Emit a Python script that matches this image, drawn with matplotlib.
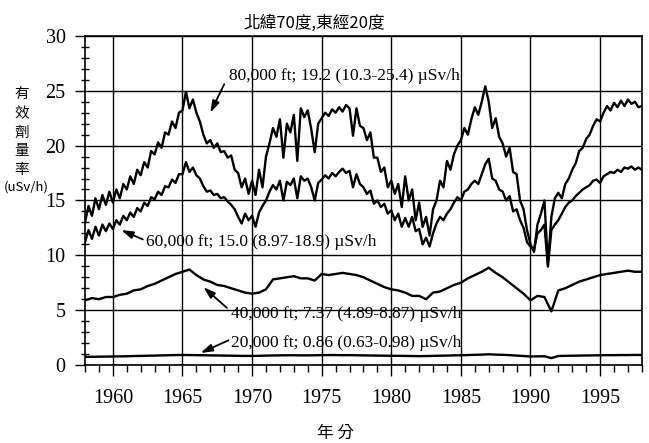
import numpy as np
import matplotlib.pyplot as plt
from matplotlib.ticker import MultipleLocator

# quarterly readings 1958.0 - 1998.0
years_q = np.arange(1958, 1998.01, 0.25)
# half-year readings
years_h = np.arange(1958, 1998.01, 0.5)

dose_80k = [
    13.0, 14.5, 13.6, 15.2,  14.2, 15.5, 14.6, 15.8,  14.8, 16.0, 15.2, 16.5,
    16.0, 17.2, 16.5, 17.8,  17.3, 18.5, 18.0, 19.5,  19.2, 20.3, 19.8, 21.2,
    21.0, 22.2, 21.6, 23.0,  23.2, 24.9, 23.4, 24.2,  23.0, 22.2, 21.0, 20.2,
    20.5, 19.8, 20.2, 19.4,  19.5, 18.9, 19.1, 17.8,  17.5, 16.2, 17.0, 15.6,
    16.8, 15.5, 17.8, 16.2,  19.0, 20.2, 21.6, 20.8,  22.4, 18.9, 22.0, 21.2,
    22.8, 18.6, 23.4, 22.6,  23.2, 21.5, 19.4, 22.0,  22.5, 23.0, 22.7, 23.3,
    23.0, 23.5, 23.1, 23.7,  23.4, 20.9, 23.4, 21.8,  21.6, 20.5, 21.2, 18.9,
    18.9, 17.6, 18.0, 16.2,  16.8, 15.6, 16.5, 14.4,  17.2, 15.0, 16.0, 13.2,
    14.8, 12.6, 13.5, 11.8,  14.2, 15.0, 16.8, 16.2,  18.6, 17.8, 19.2, 20.0,
    20.5, 21.6, 21.0, 22.4,  23.5, 22.8, 24.0, 25.4,  24.0, 21.6, 22.5, 20.8,
    20.2, 19.0, 19.8, 17.6,  17.4, 15.0, 14.2, 12.3,  11.0, 10.3, 12.8, 13.8,
    15.0, 9.2, 13.5, 15.2,   15.7, 15.2, 16.5, 17.0,  17.8, 18.4, 19.5, 19.8,
    20.6, 21.0, 21.8, 22.4,  22.2, 23.0, 23.6, 23.2,  23.9, 23.5, 24.1, 23.6,
    24.2, 23.8, 24.0, 23.5,  23.6,
]

dose_60k = [
    11.2, 12.3, 11.5, 12.6,  11.8, 12.8, 12.2, 12.9,  12.4, 13.2, 12.8, 13.6,
    13.2, 13.9, 13.5, 14.3,  14.0, 14.8, 14.5, 15.3,  15.1, 15.8, 15.5, 16.3,
    16.2, 16.9, 16.6, 17.4,  17.4, 18.5, 17.6, 18.0,  17.3, 17.0, 16.3, 15.8,
    15.9, 15.5, 15.6, 15.2,  15.3, 14.9, 14.6, 14.2,  13.5, 12.9, 13.8, 13.2,
    13.6, 12.6, 13.9, 14.5,  15.0, 15.8, 16.4, 16.0,  16.8, 15.0, 16.7, 16.4,
    17.0, 15.2, 17.2, 16.8,  17.0, 16.2, 15.0, 16.6,  16.9, 17.3, 17.0, 17.5,
    17.2, 17.6, 17.9, 17.5,  17.7, 16.2, 17.4, 16.5,  16.2, 15.6, 15.9, 14.7,
    15.0, 14.4, 14.7, 13.8,  14.1, 13.2, 13.8, 12.6,  13.4, 12.6, 13.5, 12.2,
    12.4, 11.0, 11.6, 10.8,  12.0, 12.9, 13.5, 13.2,  13.8, 14.2, 14.8, 15.3,
    15.0, 15.8, 16.0, 16.5,  16.8, 16.5, 17.4, 18.3,  18.8, 17.0, 16.8, 16.0,
    15.8, 15.0, 15.4, 14.0,  14.2, 13.2, 12.5, 11.2,  10.8, 10.5, 12.0, 12.3,
    12.8, 8.97, 12.3, 12.8,  13.2, 13.8, 14.4, 14.8,  15.0, 15.4, 15.7, 16.0,
    16.2, 16.4, 16.8, 16.9,  16.6, 17.2, 17.4, 17.6,  17.5, 17.8, 17.6, 18.0,
    17.9, 18.1, 17.8, 18.0,  17.8,
]

dose_40k = [
    5.9, 6.1,  6.0, 6.2,  6.2, 6.4,  6.5, 6.8,  6.9, 7.2,  7.4, 7.7,  8.0, 8.3,
    8.5, 8.7,  8.2, 7.8,  7.6, 7.3,  7.2, 7.0,  6.8, 6.6,  6.5, 6.6,  6.9, 7.8,
    7.9, 8.0,  8.1, 7.9,  7.9, 7.7,  8.3, 8.2,  8.3, 8.4,  8.3, 8.2,  8.0, 7.7,
    7.4, 7.1,  6.9, 6.8,  6.6, 6.3,  6.3, 6.0,  6.6, 6.7,  7.0, 7.3,  7.5, 7.9,
    8.2, 8.5,  8.87, 8.4, 8.0, 7.5,  7.0, 6.5,  5.9, 6.3,  6.2, 4.89, 6.8, 7.0,
    7.3, 7.6,  7.8, 8.0,  8.2, 8.3,  8.4, 8.5,  8.6, 8.5,  8.5,
]

dose_20k = [
    0.74, 0.75, 0.76, 0.77, 0.78, 0.79, 0.80, 0.82, 0.83, 0.85, 0.86, 0.88,
    0.89, 0.91, 0.92, 0.91, 0.90, 0.89, 0.88, 0.87, 0.86, 0.85, 0.84, 0.83,
    0.83, 0.84, 0.86, 0.87, 0.88, 0.89, 0.89, 0.88, 0.88, 0.89, 0.90, 0.91,
    0.91, 0.90, 0.90, 0.89, 0.88, 0.87, 0.86, 0.85, 0.84, 0.84, 0.83, 0.82,
    0.81, 0.82, 0.83, 0.85, 0.86, 0.88, 0.89, 0.91, 0.93, 0.95, 0.98, 0.95,
    0.93, 0.90, 0.86, 0.82, 0.78, 0.79, 0.80, 0.63, 0.82, 0.84, 0.85, 0.86,
    0.87, 0.88, 0.89, 0.90, 0.90, 0.91, 0.91, 0.92, 0.92,
]

notes = [
    # text, text position, arrow start, arrow tip
    ("80,000 ft; 19.2 (10.3-25.4) \u00b5Sv/h", (1968.35, 26.35), (1968.0, 25.6), (1967.0, 23.0)),
    ("60,000 ft; 15.0 (8.97-18.9) \u00b5Sv/h", (1962.4, 11.2), (1962.15, 11.45), (1960.6, 12.3)),
    ("40,000 ft; 7.37 (4.89-8.87) \u00b5Sv/h", (1968.5, 4.65), (1968.2, 5.2), (1966.5, 7.1)),
    ("20,000 ft; 0.86 (0.63-0.98) \u00b5Sv/h", (1968.5, 2.05), (1968.3, 2.25), (1966.3, 1.1)),
]

ylabel_chars = ['有', '效', '劑', '量', '率']
ylabel_unit = '(uSv/h)'

cjk = ['Noto Sans CJK TC', 'DejaVu Sans']
serif = 'Liberation Serif'

fig = plt.figure(figsize=(6.49, 4.43), dpi=100)
ax = fig.add_axes([0.131, 0.176, 0.858, 0.743])

for xs, ys in [(years_q, dose_80k), (years_q, dose_60k),
               (years_h, dose_40k), (years_h, dose_20k)]:
    ax.plot(xs, ys, color='black', lw=1.7, zorder=3)

ax.set_xlim(1958, 1998)
ax.set_ylim(0, 30)
ax.xaxis.set_major_locator(MultipleLocator(5))
ax.xaxis.set_minor_locator(MultipleLocator(1))
ax.yaxis.set_major_locator(MultipleLocator(5))
ax.yaxis.set_minor_locator(MultipleLocator(1))
ax.grid(True, which='major', color='black', lw=1.0)
ax.set_axisbelow(True)

ax.tick_params(axis='x', which='major', direction='out', length=8, width=1.0, pad=9)
ax.tick_params(axis='x', which='minor', direction='out', length=5, width=1.0)
ax.tick_params(axis='y', which='major', direction='out', length=7, width=1.0, pad=7)
ax.tick_params(axis='y', which='minor', direction='inout', length=6, width=1.0)
for lab in ax.get_xticklabels() + ax.get_yticklabels():
    lab.set_fontfamily(serif)
    lab.set_fontsize(14.5)
for sp in ax.spines.values():
    sp.set_linewidth(1.2)

for txt, pos, start, tip in notes:
    ax.text(pos[0], pos[1], txt, family=serif, fontsize=12.5,
            ha='left', va='center', zorder=4)
    ax.annotate('', xy=tip, xytext=start,
                arrowprops=dict(arrowstyle='-|>,head_length=0.7,head_width=0.22',
                                color='black', lw=1.3, shrinkA=0, shrinkB=0))

fig.text(314 / 649, 1 - 23 / 443, '北緯70度,東經20度', family=cjk, fontsize=12,
         ha='center', va='center')

# vertical y label, one character per line, unit underneath
for i, ch in enumerate(ylabel_chars):
    fig.text(22 / 649, 1 - (95 + 18.8 * i) / 443, ch, family=cjk,
             fontsize=10.5, ha='center', va='center')
fig.text(26 / 649, 1 - 187 / 443, ylabel_unit, family=cjk, fontsize=9.5,
         ha='center', va='center')

fig.text(335 / 649, 1 - 433 / 443, '年 分', family=cjk, fontsize=12,
         ha='center', va='center')

fig.savefig('out.png', dpi=100)
